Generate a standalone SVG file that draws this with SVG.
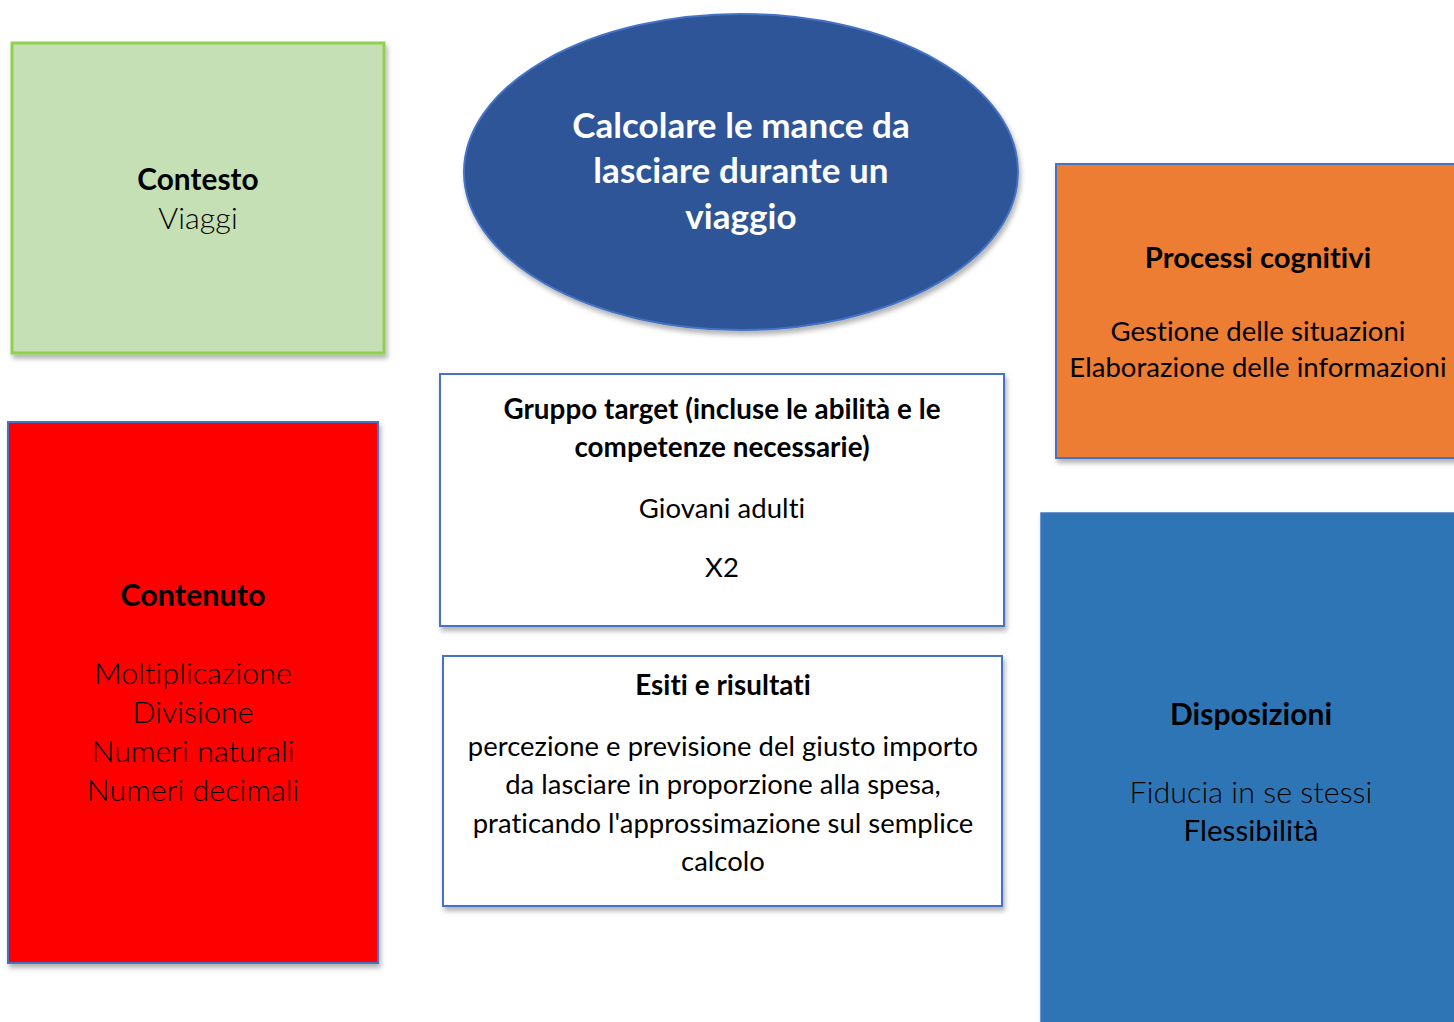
<svg xmlns="http://www.w3.org/2000/svg" width="1454" height="1022" viewBox="0 0 1454 1022">
<defs>
<filter id="sh" x="-10%" y="-10%" width="120%" height="120%">
<feDropShadow dx="2" dy="4" stdDeviation="2.5" flood-color="#000" flood-opacity="0.3"/>
</filter>
<style>
text{font-family:Lato,"Liberation Sans",sans-serif;text-anchor:middle;fill:#000;font-variant-ligatures:none;font-feature-settings:"liga" 0,"clig" 0,"dlig" 0;letter-spacing:0.05px}
.b{font-weight:700}
.l{font-weight:300}
.w{fill:#fff}
.box{stroke:#4472C4;stroke-width:2}
</style>
</defs>
<rect width="1454" height="1022" fill="#fff"/>
<g id="connectors"></g>
<g id="contesto">
<rect x="12" y="43" width="372" height="310" fill="#C5E0B4" stroke="#8FD14F" stroke-width="3" filter="url(#sh)"/>
<text x="198" y="190" class="b" font-size="29.8">Contesto</text>
<text x="198" y="229" class="l" font-size="30.4">Viaggi</text>
</g>
<g id="titolo">
<ellipse cx="741" cy="172" rx="277" ry="158" fill="#2F5597" stroke="#4472C4" stroke-width="2" filter="url(#sh)"/>
<text x="741" y="138" class="b w" font-size="35">Calcolare le mance da</text>
<text x="741" y="183" class="b w" font-size="35">lasciare durante un</text>
<text x="741" y="229" class="b w" font-size="35">viaggio</text>
</g>
<g id="processi">
<rect x="1056" y="164" width="410" height="294" fill="#ED7D31" class="box" filter="url(#sh)"/>
<text x="1258" y="268" class="b" font-size="29.2">Processi cognitivi</text>
<text x="1258" y="341" font-size="27.5">Gestione delle situazioni</text>
<text x="1258" y="377" font-size="27.5">Elaborazione delle informazioni</text>
</g>
<g id="contenuto">
<rect x="8" y="422" width="370" height="541" fill="#FF0000" class="box" filter="url(#sh)"/>
<text x="193" y="606" class="b" font-size="30.4">Contenuto</text>
<text x="193" y="684" class="l" font-size="30.4">Moltiplicazione</text>
<text x="193" y="723" class="l" font-size="30.4">Divisione</text>
<text x="193" y="762" class="l" font-size="30.4">Numeri naturali</text>
<text x="193" y="801" class="l" font-size="30.4">Numeri decimali</text>
</g>
<g id="gruppo">
<rect x="440" y="374" width="564" height="252" fill="#fff" class="box" filter="url(#sh)"/>
<text x="722" y="419" class="b" font-size="27.8">Gruppo target (incluse le abilità e le</text>
<text x="722" y="457" class="b" font-size="27.8">competenze necessarie)</text>
<text x="722" y="518" font-size="27.5">Giovani adulti</text>
<text x="722" y="577" font-size="27.5">X2</text>
</g>
<g id="esiti">
<rect x="443" y="656" width="559" height="250" fill="#fff" class="box" filter="url(#sh)"/>
<text x="723" y="695" class="b" font-size="27.8">Esiti e risultati</text>
<text x="723" y="756" font-size="27.4">percezione e previsione del giusto importo</text>
<text x="723" y="794" font-size="27.4">da lasciare in proporzione alla spesa,</text>
<text x="723" y="833" font-size="27.4">praticando l'approssimazione sul semplice</text>
<text x="723" y="871" font-size="27.4">calcolo</text>
</g>
<g id="disposizioni">
<rect x="1041" y="513" width="430" height="530" fill="#2E75B6" stroke="#4472C4" stroke-width="1.5" filter="url(#sh)"/>
<text x="1251" y="725" class="b" font-size="30">Disposizioni</text>
<text x="1251" y="803" class="l" font-size="30.4">Fiducia in se stessi</text>
<text x="1251" y="841" font-size="29.5">Flessibilità</text>
</g>
</svg>
